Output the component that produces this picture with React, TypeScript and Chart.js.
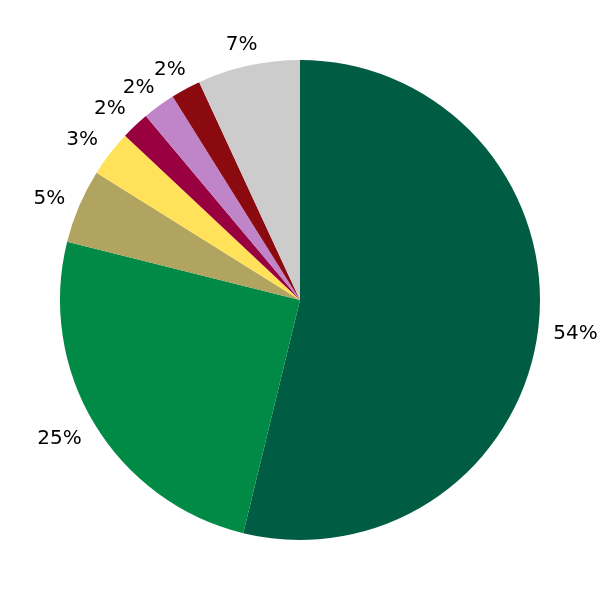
import React, { useEffect, useRef } from "react";
import { Chart, registerables } from "chart.js";

Chart.register(...registerables);

const categories = ["A", "B", "C", "D", "E", "F", "G", "H"];
const values = [53.8, 25.1, 5.0, 3.1, 1.9, 2.2, 2.0, 6.9];
const pctLabels = ["54%", "25%", "5%", "3%", "2%", "2%", "2%", "7%"];
const colors = [
  "#005C42",
  "#008A45",
  "#B0A460",
  "#FFE25A",
  "#990040",
  "#C084C8",
  "#8B0A10",
  "#CCCCCC",
];

const labelPlugin = {
  id: "pctLabels",
  afterDraw(chart: any) {
    const ctx = chart.ctx;
    const meta = chart.getDatasetMeta(0);
    ctx.save();
    ctx.font = '20px "DejaVu Sans"';
    ctx.fillStyle = "#000000";
    ctx.textAlign = "center";
    ctx.textBaseline = "alphabetic";
    meta.data.forEach((arc: any, i: number) => {
      const a = (arc.startAngle + arc.endAngle) / 2;
      const text = pctLabels[i];
      const hw = ctx.measureText(text).width / 2;
      const hh = 8;
      const vx = Math.cos(a);
      const vy = Math.sin(a);
      const vs = 1 / Math.max(Math.abs(vx), Math.abs(vy));
      const R = arc.outerRadius + 15;
      const cx = arc.x + R * vx + hw * vx * vs;
      const cy = arc.y + R * vy + hh * vy * vs;
      ctx.fillText(text, cx, cy + 7.3);
    });
    ctx.restore();
  },
};

export default function App() {
  const ref = useRef<HTMLCanvasElement | null>(null);
  useEffect(() => {
    if (!ref.current) return;
    const chart = new Chart(ref.current, {
      type: "pie",
      data: {
        labels: categories,
        datasets: [
          {
            data: values,
            backgroundColor: colors,
            borderWidth: 0,
          },
        ],
      },
      options: {
        animation: false,
        responsive: false,
        layout: { padding: 60 },
        plugins: {
          legend: { display: false },
          tooltip: { enabled: false },
        },
      },
      plugins: [labelPlugin],
    });
    return () => chart.destroy();
  }, []);
  return (
    <div style={{ position: "absolute", left: 0, top: 0, width: 600, height: 600, background: "#fff" }}>
      <canvas ref={ref} width={600} height={600} style={{ width: 600, height: 600 }} />
    </div>
  );
}
